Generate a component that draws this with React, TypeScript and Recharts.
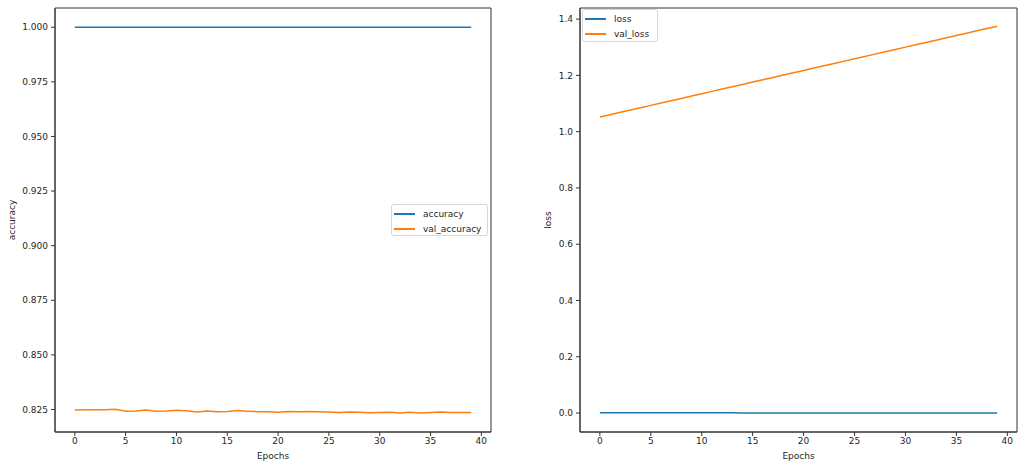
import React from 'react';
import { LineChart, Line, XAxis, YAxis, Legend, Label, ReferenceArea } from 'recharts';

const epochs = [0,1,2,3,4,5,6,7,8,9,10,11,12,13,14,15,16,17,18,19,20,21,22,23,24,25,26,27,28,29,30,31,32,33,34,35,36,37,38,39];
const accuracy = [1,1,1,1,1,1,1,1,1,1,1,1,1,1,1,1,1,1,1,1,1,1,1,1,1,1,1,1,1,1,1,1,1,1,1,1,1,1,1,1];
const valAccuracy = [0.8248,0.8249,0.8249,0.8249,0.8251,0.8242,0.8243,0.8248,0.8242,0.8243,0.8246,0.8244,0.8239,0.8243,0.8240,0.8241,0.8245,0.8242,0.8240,0.8240,0.8237,0.8241,0.8240,0.8241,0.8240,0.8238,0.8236,0.8239,0.8237,0.8235,0.8236,0.8237,0.8234,0.8237,0.8234,0.8236,0.8238,0.8236,0.8236,0.8236];
const loss = [0.0012,0.0010,0.0009,0.0008,0.0008,0.0007,0.0007,0.0006,0.0006,0.0006,0.0005,0.0005,0.0005,0.0005,0.0004,0.0004,0.0004,0.0004,0.0004,0.0003,0.0003,0.0003,0.0003,0.0003,0.0003,0.0003,0.0003,0.0002,0.0002,0.0002,0.0002,0.0002,0.0002,0.0002,0.0002,0.0002,0.0002,0.0002,0.0002,0.0002];
const valLoss = [1.0520,1.0603,1.0686,1.0768,1.0851,1.0934,1.1017,1.1100,1.1182,1.1265,1.1348,1.1431,1.1514,1.1596,1.1679,1.1762,1.1845,1.1928,1.2010,1.2093,1.2176,1.2259,1.2342,1.2424,1.2507,1.2590,1.2673,1.2756,1.2838,1.2921,1.3004,1.3087,1.3170,1.3252,1.3335,1.3418,1.3501,1.3584,1.3666,1.3750];

const xTicks = [0,5,10,15,20,25,30,35,40];
const accTicks = [0.825,0.85,0.875,0.9,0.925,0.95,0.975,1.0];
const lossTicks = [0,0.2,0.4,0.6,0.8,1.0,1.2,1.4];

const accData = epochs.map((e, i) => ({ epoch: e, accuracy: accuracy[i], val_accuracy: valAccuracy[i] }));
const lossData = epochs.map((e, i) => ({ epoch: e, loss: loss[i], val_loss: valLoss[i] }));

const X_DOMAIN: [number, number] = [-1.95, 40.95];
const ACC_DOMAIN: [number, number] = [0.8147, 1.0088];
const LOSS_DOMAIN: [number, number] = [-0.0675, 1.4395];

const FONT = '"DejaVu Sans", sans-serif';
const TXT = '#262626';
const AX = '#333';
const BLUE = '#1f77b4';
const ORANGE = '#ff7f0e';
const tickStyle = { fontSize: 9, fill: TXT, fontFamily: FONT };

const makeLegend = (items: { name: string; color: string }[], w: number, h: number) => () => (
  <div style={{ width: w, height: h, boxSizing: 'border-box', border: '1px solid #d6d6d6', borderRadius: 3, background: 'rgba(255,255,255,0.8)', padding: '1px 0 0 2px', fontFamily: FONT, fontSize: 9, color: TXT, textAlign: 'left' }}>
    {items.map((it) => (
      <div key={it.name} style={{ display: 'flex', alignItems: 'center', height: 15 }}>
        <div style={{ width: 21, height: 2, background: it.color, marginRight: 8 }} />
        <span>{it.name}</span>
      </div>
    ))}
  </div>
);

const yLabel = (text: string, dx: number) => (props: any) => {
  const vb = props.viewBox || {};
  const cx = vb.x + dx;
  const cy = vb.y + vb.height / 2;
  return (
    <text x={cx} y={cy} transform={`rotate(-90, ${cx}, ${cy})`} textAnchor="middle" dominantBaseline="central" fontSize={9} fill={TXT} fontFamily={FONT}>{text}</text>
  );
};

const xLabel = (props: any) => {
  const vb = props.viewBox || {};
  return (
    <text x={vb.x + vb.width / 2} y={vb.y + 24} textAnchor="middle" dominantBaseline="central" fontSize={9} fill={TXT} fontFamily={FONT}>Epochs</text>
  );
};

export default function App() {
  return (
    <div style={{ position: 'absolute', left: 0, top: 0, width: 1024, height: 469, background: '#fff' }}>
      <div style={{ position: 'absolute', left: 0, top: 0 }}>
        <LineChart width={500} height={469} data={accData} margin={{ top: 8, right: 9, left: 0, bottom: 0 }}>
          <XAxis dataKey="epoch" type="number" domain={X_DOMAIN} ticks={xTicks} allowDataOverflow interval={0}
            height={37} tickSize={4} tickMargin={2} tick={tickStyle} tickLine={{ stroke: AX }} axisLine={{ stroke: AX }}>
            <Label content={xLabel} />
          </XAxis>
          <YAxis type="number" domain={ACC_DOMAIN} ticks={accTicks} allowDataOverflow interval={0} width={55}
            tickSize={4} tickMargin={3} tick={tickStyle} tickFormatter={(v: number) => v.toFixed(3)} axisLine={{ stroke: AX }} tickLine={{ stroke: AX }}>
            <Label content={yLabel('accuracy', 12)} />
          </YAxis>
          <ReferenceArea x1={X_DOMAIN[0]} x2={X_DOMAIN[1]} y1={ACC_DOMAIN[0]} y2={ACC_DOMAIN[1]} fill="none" fillOpacity={0} stroke={AX} strokeWidth={1} ifOverflow="visible" />
          <Legend layout="horizontal" verticalAlign="middle" align="center" content={makeLegend([{ name: 'accuracy', color: BLUE }, { name: 'val_accuracy', color: ORANGE }], 97, 32)}
            wrapperStyle={{ left: 391, top: 204, width: 97, height: 32 }} />
          <Line dataKey="accuracy" stroke={BLUE} strokeWidth={1.5} dot={false} isAnimationActive={false} />
          <Line dataKey="val_accuracy" stroke={ORANGE} strokeWidth={1.5} dot={false} isAnimationActive={false} />
        </LineChart>
      </div>
      <div style={{ position: 'absolute', left: 520, top: 0 }}>
        <LineChart width={504} height={469} data={lossData} margin={{ top: 8, right: 7, left: 0, bottom: 0 }}>
          <XAxis dataKey="epoch" type="number" domain={X_DOMAIN} ticks={xTicks} allowDataOverflow interval={0}
            height={37} tickSize={4} tickMargin={2} tick={tickStyle} tickLine={{ stroke: AX }} axisLine={{ stroke: AX }}>
            <Label content={xLabel} />
          </XAxis>
          <YAxis type="number" domain={LOSS_DOMAIN} ticks={lossTicks} allowDataOverflow interval={0} width={60}
            tickSize={4} tickMargin={3} tick={tickStyle} tickFormatter={(v: number) => v.toFixed(1)} axisLine={{ stroke: AX }} tickLine={{ stroke: AX }}>
            <Label content={yLabel('loss', 28)} />
          </YAxis>
          <ReferenceArea x1={X_DOMAIN[0]} x2={X_DOMAIN[1]} y1={LOSS_DOMAIN[0]} y2={LOSS_DOMAIN[1]} fill="none" fillOpacity={0} stroke={AX} strokeWidth={1} ifOverflow="visible" />
          <Legend layout="horizontal" verticalAlign="middle" align="center" content={makeLegend([{ name: 'loss', color: BLUE }, { name: 'val_loss', color: ORANGE }], 76, 33)}
            wrapperStyle={{ left: 62, top: 9, width: 76, height: 33 }} />
          <Line dataKey="loss" stroke={BLUE} strokeWidth={1.5} dot={false} isAnimationActive={false} />
          <Line dataKey="val_loss" stroke={ORANGE} strokeWidth={1.5} dot={false} isAnimationActive={false} />
        </LineChart>
      </div>
    </div>
  );
}
